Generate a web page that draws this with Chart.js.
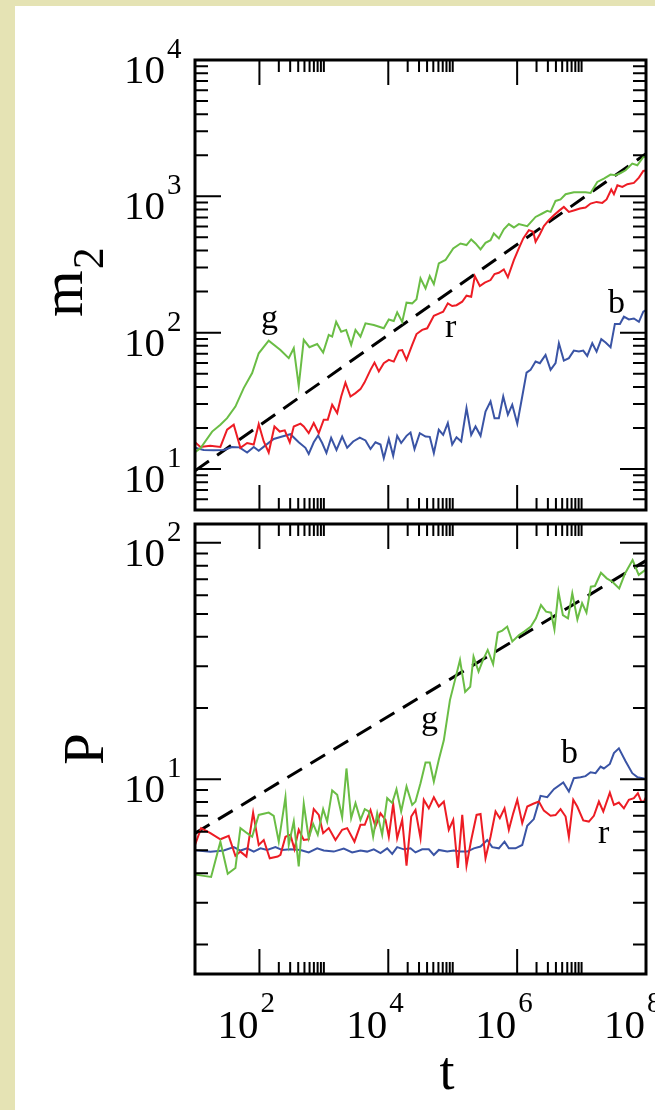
<!DOCTYPE html>
<html>
<head>
<meta charset="utf-8">
<script src="https://cdn.jsdelivr.net/npm/chart.js@4.4.1/dist/chart.umd.min.js"></script>
<style>
  html, body { margin: 0; padding: 0; }
  body { width: 655px; height: 1110px; background: #e5e3b4; position: relative; overflow: hidden; }
  #sheet { position: absolute; left: 15px; top: 6px; right: 0; bottom: 0; background: #ffffff; }
  canvas { position: absolute; left: 0; top: 0; }
</style>
</head>
<body>
<div id="sheet"></div>
<canvas id="m2Chart" width="655" height="1110"></canvas>
<canvas id="pChart" width="655" height="1110"></canvas>
<script>
// Time axis: t from 10 to 1e8 (log scale). Points are [log10 t, value].
const T_MIN = 1e1, T_MAX = 1e8;
const T_MAJOR_EXP = [2, 4, 6];          // decades with long ticks
const T_LABEL_EXP = [2, 4, 6, 8];       // labelled decades under the lower panel

// ---- upper panel: m2(t) ----
const M2_MIN = 5, M2_MAX = 1e4;
const M2_LABEL_EXP = [1, 2, 3, 4];

const m2Green = [[1.0,13.3],[1.084,14.2],[1.266,18.8],[1.394,21.1],[1.498,23.6],[1.627,28.7],[1.756,39.2],[1.887,50.5],[1.989,70.6],[2.144,87.3],[2.326,74.6],[2.455,65],[2.533,76.9],[2.610,40.7],[2.688,88.5],[2.776,78.2],[2.896,82.6],[2.989,71.4],[3.076,96.2],[3.129,93.5],[3.191,120],[3.269,101.6],[3.346,104.7],[3.424,81.3],[3.491,104.8],[3.568,93.5],[3.646,117],[3.775,113.7],[3.930,107.6],[4.008,125],[4.085,121.6],[4.138,140.9],[4.216,120],[4.283,166],[4.371,164],[4.438,176],[4.500,250],[4.578,211],[4.644,260],[4.707,227],[4.784,322],[4.888,341],[5.008,415],[5.121,451],[5.214,439],[5.287,483],[5.354,451],[5.432,408],[5.509,456],[5.587,477],[5.638,534],[5.717,491],[5.793,572],[5.871,625],[5.949,591],[6.026,625],[6.157,604],[6.286,706],[6.390,748],[6.467,782],[6.519,769],[6.596,925],[6.674,948],[6.752,1036],[6.880,1071],[7.062,1071],[7.140,1059],[7.244,1275],[7.346,1350],[7.450,1444],[7.528,1427],[7.606,1483],[7.683,1553],[7.787,1738],[7.865,1690],[7.967,1968],[8.0,1923]];

const m2Red = [[1.0,15.7],[1.084,14.5],[1.236,14.8],[1.394,14.5],[1.498,19.4],[1.601,21.1],[1.705,14.3],[1.809,15.5],[1.912,15.1],[1.989,21.3],[2.067,15.9],[2.144,13.2],[2.233,20.5],[2.315,18.8],[2.393,19.2],[2.471,15.7],[2.533,20.5],[2.637,21.5],[2.688,20.5],[2.765,18.3],[2.843,21.7],[2.921,18.3],[2.998,23],[3.061,23],[3.129,29.6],[3.207,25.7],[3.269,34],[3.335,43],[3.413,34],[3.491,36],[3.568,38.5],[3.630,43],[3.724,53.3],[3.786,60.3],[3.853,51.9],[3.930,59.7],[4.008,63.1],[4.085,61.3],[4.163,73.8],[4.216,74.5],[4.283,63.1],[4.371,81.3],[4.438,97.7],[4.526,104.8],[4.604,107.6],[4.707,133],[4.784,138],[4.852,142.6],[4.924,164],[4.992,156.7],[5.059,159],[5.147,168.6],[5.214,186.6],[5.287,183.5],[5.343,260],[5.421,219.8],[5.498,232.5],[5.587,243],[5.649,269],[5.716,275],[5.793,291],[5.856,254.7],[5.949,340],[6.026,415],[6.095,491],[6.182,565],[6.250,549],[6.286,464],[6.353,527],[6.415,604],[6.492,668],[6.570,727],[6.648,782],[6.725,836],[6.803,769],[6.891,791],[6.974,814],[7.062,828],[7.140,885],[7.233,910],[7.322,895],[7.388,948],[7.461,1122],[7.502,1036],[7.556,1205],[7.633,1172],[7.710,1227],[7.812,1255],[7.890,1371],[7.958,1534],[8.0,1550]];

const m2Blue = [[1.0,14.3],[1.135,13.8],[1.290,13.7],[1.446,13.8],[1.576,14.5],[1.690,14.4],[1.809,13.2],[1.912,14.5],[1.989,13.6],[2.093,14.9],[2.222,16.6],[2.353,17.3],[2.481,18.0],[2.610,15.7],[2.714,14.3],[2.765,12.9],[2.843,15.7],[2.911,17.6],[2.974,15.5],[3.040,13.1],[3.113,16.9],[3.196,13.8],[3.284,17.3],[3.362,14.3],[3.455,15.9],[3.557,17.0],[3.646,16.2],[3.724,14.0],[3.801,15.7],[3.879,15.1],[3.930,12.0],[4.008,16.6],[4.076,12.5],[4.138,17.5],[4.200,15.5],[4.283,17.5],[4.345,18.5],[4.407,14.0],[4.489,18.3],[4.578,17.3],[4.644,17.2],[4.707,13.1],[4.784,19.4],[4.852,17.8],[4.924,21.7],[4.992,15.1],[5.059,17.1],[5.132,15.9],[5.214,28.0],[5.287,17.8],[5.354,20.5],[5.432,17.5],[5.509,26.4],[5.587,31.3],[5.649,23.6],[5.716,23.6],[5.784,34],[5.856,25],[5.924,29.6],[6.002,21.5],[6.079,34],[6.146,50.9],[6.208,53.3],[6.286,61.4],[6.353,59.7],[6.441,68.7],[6.519,53.3],[6.596,59.7],[6.648,83.6],[6.725,62.4],[6.803,65],[6.880,73.8],[6.958,72.6],[7.026,73.8],[7.088,67.5],[7.166,83.6],[7.233,72.6],[7.306,89.5],[7.373,84.6],[7.450,78.2],[7.517,115.9],[7.595,115.9],[7.657,131],[7.734,125],[7.812,127],[7.890,120],[7.958,142.6],[8.0,146.6]];

// power-law guide, m2 ~ t^(1/3)
const m2Guide = [[1.0,9.7],[8.0,2050]];

// ---- lower panel: P(t) ----
const P_MIN = 1.5, P_MAX = 120;
const P_LABEL_EXP = [1, 2];

const pGreen = [[1.0,3.95],[1.135,3.90],[1.250,3.86],[1.394,5.44],[1.508,3.98],[1.627,4.21],[1.705,6.21],[1.809,5.91],[1.887,5.71],[1.989,7.06],[2.144,7.22],[2.222,7.0],[2.300,5.44],[2.404,8.39],[2.455,5.27],[2.533,6.62],[2.610,4.28],[2.688,7.87],[2.765,5.63],[2.834,6.47],[2.905,5.82],[2.989,7.47],[3.051,6.62],[3.129,8.96],[3.207,8.59],[3.284,6.90],[3.351,11.1],[3.424,6.84],[3.491,7.93],[3.568,6.73],[3.635,7.47],[3.697,7.3],[3.765,5.71],[3.828,7.17],[3.905,5.82],[3.983,8.31],[4.061,7.93],[4.127,9.07],[4.200,7.30],[4.283,9.31],[4.371,7.78],[4.422,8.04],[4.500,9.62],[4.578,11.75],[4.644,11.75],[4.707,9.77],[4.784,12.07],[4.862,14.6],[4.957,21.6],[5.036,26.3],[5.113,31.9],[5.193,23.4],[5.272,24.6],[5.323,33.0],[5.401,28.5],[5.469,31.9],[5.543,35.2],[5.627,30.7],[5.700,41.7],[5.769,42.5],[5.846,44.2],[5.925,38.2],[6.030,40.7],[6.109,42.1],[6.213,44.2],[6.292,47.9],[6.370,54.5],[6.449,51.1],[6.526,50.6],[6.579,43],[6.641,62.1],[6.710,49.4],[6.789,47.9],[6.856,61.1],[6.935,47.4],[7.008,55.5],[7.076,50.6],[7.144,65.2],[7.207,65.6],[7.301,74.6],[7.390,70.7],[7.478,68.4],[7.584,64.1],[7.677,74.3],[7.792,84.5],[7.887,73.1],[7.992,76.8],[8.0,79]];

const pRed = [[1.0,5.27],[1.095,6.21],[1.239,5.91],[1.394,5.57],[1.523,5.76],[1.627,4.74],[1.705,4.94],[1.798,4.71],[1.902,7.22],[1.989,5.27],[2.067,5.53],[2.160,4.63],[2.284,4.71],[2.326,4.79],[2.404,5.71],[2.481,5.82],[2.543,5.06],[2.610,6.11],[2.688,5.53],[2.765,5.57],[2.843,7.47],[2.921,7.06],[2.989,5.91],[3.076,6.21],[3.180,5.53],[3.284,6.11],[3.362,6.21],[3.475,5.44],[3.568,6.41],[3.635,6.41],[3.724,7.41],[3.801,6.31],[3.879,7.17],[3.957,6.73],[4.008,5.71],[4.076,7.87],[4.138,5.63],[4.216,6.73],[4.283,4.31],[4.356,6.95],[4.422,7.41],[4.500,5.63],[4.551,8.18],[4.629,7.53],[4.707,8.39],[4.784,7.66],[4.862,8.04],[4.939,6.11],[5.008,6.73],[5.079,4.21],[5.148,7.06],[5.214,4.31],[5.287,5.53],[5.370,7.06],[5.432,7.13],[5.509,4.63],[5.587,5.71],[5.665,7.30],[5.731,6.84],[5.804,7.53],[5.871,6.11],[5.939,7.17],[6.002,8.18],[6.079,6.52],[6.157,7.66],[6.250,7.87],[6.337,8.04],[6.415,7.36],[6.519,7.0],[6.596,7.05],[6.674,7.47],[6.752,6.95],[6.803,5.69],[6.871,8.18],[6.933,7.66],[7.026,6.69],[7.113,6.62],[7.191,7.0],[7.269,8.04],[7.337,7.30],[7.439,8.77],[7.502,7.78],[7.579,7.97],[7.657,7.53],[7.734,8.18],[7.812,8.31],[7.874,8.73],[7.927,8.04],[7.967,8.04],[8.0,8.39]];

const pBlue = [[1.0,5.0],[1.239,4.93],[1.446,4.99],[1.601,5.16],[1.705,4.99],[1.809,5.10],[1.912,4.94],[2.016,5.10],[2.120,5.02],[2.248,5.16],[2.352,5.02],[2.481,5.05],[2.637,5.02],[2.765,4.90],[2.896,5.10],[2.998,4.99],[3.154,4.94],[3.309,5.09],[3.439,4.90],[3.568,4.99],[3.672,4.94],[3.775,5.05],[3.879,4.87],[3.983,5.10],[4.061,4.83],[4.138,5.16],[4.241,5.05],[4.345,5.10],[4.422,4.90],[4.526,5.05],[4.629,5.05],[4.707,4.78],[4.784,5.02],[4.915,4.94],[5.017,4.99],[5.121,4.94],[5.225,4.94],[5.328,5.10],[5.432,5.19],[5.536,5.53],[5.613,5.16],[5.716,5.10],[5.804,5.44],[5.871,5.10],[5.975,5.10],[6.079,5.27],[6.157,6.35],[6.259,6.78],[6.363,8.50],[6.467,8.39],[6.570,9.07],[6.716,9.68],[6.803,8.87],[6.880,10.1],[6.984,10.2],[7.062,10.3],[7.140,10.7],[7.217,10.6],[7.295,11.3],[7.346,11.1],[7.439,11.6],[7.502,12.9],[7.579,13.5],[7.683,11.9],[7.787,10.6],[7.865,10.2],[7.967,10.06],[8.0,10.0]];

// power-law guide, P ~ t^(1/6)
const pGuide = [[1.0,5.9],[8.0,84]];

// ---- styling ----
const GREEN = '#6abd45', RED = '#ed1c24', BLUE = '#3a54a5';
const SERIF = "'Liberation Serif', 'Times New Roman', 'DejaVu Serif', serif";

function toPoints(pairs) {
  return pairs.map(([lg, v]) => ({ x: Math.pow(10, lg), y: v }));
}

function line(pairs, color) {
  return { data: toPoints(pairs), borderColor: color, borderWidth: 2, pointRadius: 0, fill: false, tension: 0 };
}

function guide(pairs) {
  return { data: toPoints(pairs), borderColor: '#000', borderWidth: 3, borderDash: [17, 10], pointRadius: 0, fill: false, tension: 0 };
}

// "10" with a raised exponent
function drawPower(ctx, exp, xRight, baseY, supY) {
  ctx.textAlign = 'right';
  ctx.textBaseline = 'alphabetic';
  ctx.font = '41px ' + SERIF;
  ctx.fillText('10', xRight, baseY);
  ctx.textAlign = 'left';
  ctx.font = '29px ' + SERIF;
  ctx.fillText(String(exp), xRight + 2, supY);
}

// Frame, inward ticks on all four sides, tick labels and annotations
function framePlugin(cfg) {
  return {
    id: 'frame',
    afterDatasetsDraw(chart) {
      const { ctx, chartArea: a, scales: { x, y } } = chart;
      ctx.save();
      ctx.strokeStyle = '#000';
      ctx.fillStyle = '#000';
      ctx.lineWidth = 2;
      ctx.beginPath();
      const vTick = (v, len) => {
        const px = x.getPixelForValue(v);
        ctx.moveTo(px, a.top); ctx.lineTo(px, a.top + len);
        ctx.moveTo(px, a.bottom); ctx.lineTo(px, a.bottom - len);
      };
      const hTick = (v, len) => {
        const py = y.getPixelForValue(v);
        ctx.moveTo(a.left, py); ctx.lineTo(a.left + len, py);
        ctx.moveTo(a.right, py); ctx.lineTo(a.right - len, py);
      };
      T_MAJOR_EXP.forEach(e => {
        vTick(Math.pow(10, e), 25);
        for (let k = 2; k <= 10; k++) vTick(k * Math.pow(10, e), 12);
      });
      const d0 = Math.floor(Math.log10(cfg.yMin)), d1 = Math.ceil(Math.log10(cfg.yMax));
      for (let d = d0; d <= d1; d++) {
        const base = Math.pow(10, d);
        if (base > cfg.yMin && base < cfg.yMax) hTick(base, 26);
        for (let k = 2; k <= 9; k++) {
          const v = k * base;
          if (v > cfg.yMin && v < cfg.yMax) hTick(v, 13);
        }
      }
      ctx.stroke();
      ctx.lineWidth = 3;
      ctx.strokeRect(a.left, a.top, a.right - a.left, a.bottom - a.top);

      // y tick labels
      cfg.yLabels.forEach(e => {
        const py = y.getPixelForValue(Math.pow(10, e));
        drawPower(ctx, e, a.left - 30, py + 23, py - 2);
      });
      // x tick labels
      if (cfg.xLabels) {
        cfg.xLabels.forEach(e => {
          const px = x.getPixelForValue(Math.pow(10, e));
          drawPower(ctx, e, px - 1, a.bottom + 64, a.bottom + 38);
        });
      }
      // curve annotations
      ctx.font = '34px ' + SERIF;
      ctx.textAlign = 'left';
      ctx.textBaseline = 'alphabetic';
      cfg.notes.forEach(n => ctx.fillText(n.text, n.x, n.y));
      cfg.title(ctx, a);
      ctx.restore();
    }
  };
}

function makePanel(id, cfg) {
  return new Chart(document.getElementById(id), {
    type: 'line',
    data: { datasets: cfg.datasets },
    options: {
      responsive: false,
      animation: false,
      devicePixelRatio: 1,
      events: [],
      layout: { padding: cfg.padding },
      scales: {
        x: { type: 'logarithmic', min: T_MIN, max: T_MAX, display: false },
        y: { type: 'logarithmic', min: cfg.yMin, max: cfg.yMax, display: false }
      },
      plugins: { legend: { display: false }, tooltip: { enabled: false } }
    },
    plugins: [framePlugin(cfg)]
  });
}

makePanel('m2Chart', {
  datasets: [line(m2Green, GREEN), line(m2Red, RED), line(m2Blue, BLUE), guide(m2Guide)],
  padding: { left: 195, top: 60, right: 9, bottom: 600 },
  yMin: M2_MIN, yMax: M2_MAX,
  yLabels: M2_LABEL_EXP,
  notes: [ { text: 'g', x: 261, y: 328 }, { text: 'r', x: 445, y: 337 }, { text: 'b', x: 608, y: 313 } ],
  title(ctx) {
    ctx.save();
    ctx.translate(82, 317);
    ctx.rotate(-Math.PI / 2);
    ctx.textAlign = 'left';
    ctx.font = '60px ' + SERIF;
    ctx.fillText('m', 0, 0);
    const w = ctx.measureText('m').width;
    ctx.font = '44px ' + SERIF;
    ctx.fillText('2', w + 1, 21);
    ctx.restore();
  }
});

makePanel('pChart', {
  datasets: [line(pGreen, GREEN), line(pRed, RED), line(pBlue, BLUE), guide(pGuide)],
  padding: { left: 195, top: 524, right: 9, bottom: 136 },
  yMin: P_MIN, yMax: P_MAX,
  yLabels: P_LABEL_EXP,
  xLabels: T_LABEL_EXP,
  notes: [ { text: 'g', x: 421, y: 729 }, { text: 'b', x: 561, y: 763 }, { text: 'r', x: 598, y: 843 } ],
  title(ctx) {
    ctx.save();
    ctx.translate(103, 765);
    ctx.rotate(-Math.PI / 2);
    ctx.textAlign = 'left';
    ctx.font = '57px ' + SERIF;
    ctx.fillText('P', 0, 0);
    ctx.restore();
    ctx.textAlign = 'center';
    ctx.font = '54px ' + SERIF;
    ctx.fillText('t', 447, 1089);
  }
});
</script>
</body>
</html>
